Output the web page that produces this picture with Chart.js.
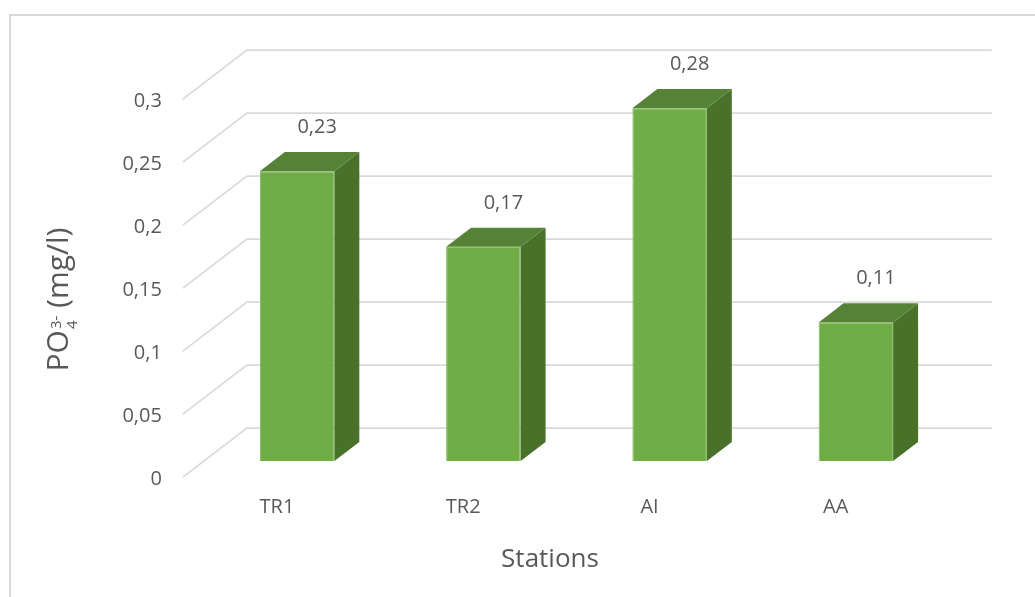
<!DOCTYPE html>
<html>
<head>
<meta charset="utf-8">
<title>PO4 par station</title>
<script src="https://cdn.jsdelivr.net/npm/chart.js@4.4.0/dist/chart.umd.min.js"></script>
<style>
    html, body { margin: 0; padding: 0; background: #ffffff; }
    #wrap { position: relative; width: 1035px; height: 597px; }
</style>
</head>
<body>
<div id="wrap"><canvas id="po4Chart"></canvas></div>
<script>
// Stations and phosphate concentrations (mg/l)
const stations = ['TR1', 'TR2', 'AI', 'AA'];
const po4Values = [0.23, 0.17, 0.28, 0.11];
const yMin = 0;
const yMax = 0.3;
const yStep = 0.05;

const FONT = '"Open Sans", "DejaVu Sans", sans-serif';
const TEXT_COLOR = '#595959';
const GRID_COLOR = '#d9d9d9';
const FRONT_COLOR = '#70ad47';
const TOP_COLOR = '#558236';
const SIDE_COLOR = '#4a712a';

// oblique projection: full depth of the plot box, bar front position and bar depth
const DEPTH = { dx: 64, dy: -49 };
const BAR_FRONT = 0.33;
const BAR_DEPTH = 0.39;

const fmt = v => String(Math.round(v * 100) / 100).replace('.', ',');

// offset from the plane the bars are drawn in, to a given depth
function shift(t) {
    return { x: DEPTH.dx * (t - BAR_FRONT), y: DEPTH.dy * (t - BAR_FRONT) };
}

const box3d = {
    id: 'box3d',
    beforeDraw(chart) {
        const ctx = chart.ctx;
        ctx.save();
        ctx.fillStyle = '#ffffff';
        ctx.fillRect(0, 0, chart.width, chart.height);
        // chart frame
        ctx.strokeStyle = GRID_COLOR;
        ctx.lineWidth = 2;
        ctx.strokeRect(10, 15, chart.width + 20, chart.height + 20);
        ctx.restore();
    },
    beforeDatasetsDraw(chart) {
        const ctx = chart.ctx;
        const area = chart.chartArea;
        const y = chart.scales.y;
        const x = chart.scales.x;
        const back = shift(1);
        const front = shift(0);

        ctx.save();
        ctx.strokeStyle = GRID_COLOR;
        ctx.lineWidth = 1.6;
        y.ticks.forEach(t => {
            const py = y.getPixelForValue(t.value);
            ctx.beginPath();
            ctx.moveTo(area.left + front.x, py + front.y);
            ctx.lineTo(area.left + back.x, py + back.y);
            ctx.lineTo(area.right + back.x, py + back.y);
            ctx.stroke();
        });

        // value axis labels on the front edge
        ctx.fillStyle = TEXT_COLOR;
        ctx.font = '20px ' + FONT;
        ctx.textAlign = 'right';
        ctx.textBaseline = 'middle';
        y.ticks.forEach(t => {
            const py = y.getPixelForValue(t.value);
            ctx.fillText(fmt(t.value), area.left + front.x - 21, py + front.y + 2);
        });

        // category labels
        ctx.textAlign = 'center';
        stations.forEach((s, i) => {
            ctx.fillText(s, x.getPixelForValue(i) + front.x + 1, area.bottom + 46);
        });

        // axis titles
        ctx.font = '26px ' + FONT;
        ctx.textBaseline = 'alphabetic';
        ctx.fillText('Stations', 550, 567);
        drawYTitle(ctx, 58, 300);
        ctx.restore();
    },
    afterDatasetsDraw(chart) {
        const ctx = chart.ctx;
        const meta = chart.getDatasetMeta(0);
        const d = { x: DEPTH.dx * BAR_DEPTH, y: DEPTH.dy * BAR_DEPTH };

        ctx.save();
        meta.data.forEach((bar, i) => {
            const p = bar.getProps(['x', 'y', 'base', 'width'], true);
            const l = p.x - p.width / 2;
            const r = p.x + p.width / 2;

            // side face
            ctx.fillStyle = SIDE_COLOR;
            ctx.beginPath();
            ctx.moveTo(r, p.y);
            ctx.lineTo(r + d.x, p.y + d.y);
            ctx.lineTo(r + d.x, p.base + d.y);
            ctx.lineTo(r, p.base);
            ctx.closePath();
            ctx.fill();

            // top face
            ctx.fillStyle = TOP_COLOR;
            ctx.beginPath();
            ctx.moveTo(l, p.y);
            ctx.lineTo(l + d.x, p.y + d.y);
            ctx.lineTo(r + d.x, p.y + d.y);
            ctx.lineTo(r, p.y);
            ctx.closePath();
            ctx.fill();

            // value label above the column
            ctx.fillStyle = TEXT_COLOR;
            ctx.font = '20px ' + FONT;
            ctx.textAlign = 'center';
            ctx.textBaseline = 'middle';
            ctx.fillText(fmt(po4Values[i]), p.x + 20, p.y - 44);
        });
        ctx.restore();
    }
};

// rotated "PO4 3- (mg/l)" with stacked sub/superscript
function drawYTitle(ctx, cx, cy) {
    const main = '30px ' + FONT;
    const small = '15px ' + FONT;
    ctx.save();
    ctx.translate(cx, cy);
    ctx.rotate(-Math.PI / 2);
    ctx.textAlign = 'left';
    ctx.textBaseline = 'alphabetic';

    ctx.font = main;
    const wPO = ctx.measureText('PO').width;
    const wRest = ctx.measureText(' (mg/l)').width;
    ctx.font = small;
    const wScript = Math.max(ctx.measureText('4').width, ctx.measureText('3-').width);
    let px = -(wPO + wScript + wRest) / 2;
    const base = 10;

    ctx.font = main;
    ctx.fillText('PO', px, base);
    px += wPO + 1;
    ctx.font = small;
    ctx.fillText('4', px, base + 9);
    ctx.fillText('3-', px, base - 7);
    px += wScript;
    ctx.font = main;
    ctx.fillText(' (mg/l)', px, base);
    ctx.restore();
}

new Chart(document.getElementById('po4Chart'), {
    type: 'bar',
    data: {
        labels: stations,
        datasets: [{
            label: 'PO4',
            data: po4Values,
            backgroundColor: FRONT_COLOR,
            borderColor: '#7fbb57',
            borderWidth: 1,
            barPercentage: 0.4,
            categoryPercentage: 1
        }]
    },
    options: {
        responsive: true,
        maintainAspectRatio: false,
        animation: false,
        layout: {
            padding: { left: 204, right: 86, top: 83, bottom: 136 }
        },
        plugins: {
            legend: { display: false },
            tooltip: { enabled: false }
        },
        scales: {
            x: { display: false },
            y: {
                display: false,
                min: yMin,
                max: yMax,
                ticks: { stepSize: yStep }
            }
        }
    },
    plugins: [box3d]
});
</script>
</body>
</html>
